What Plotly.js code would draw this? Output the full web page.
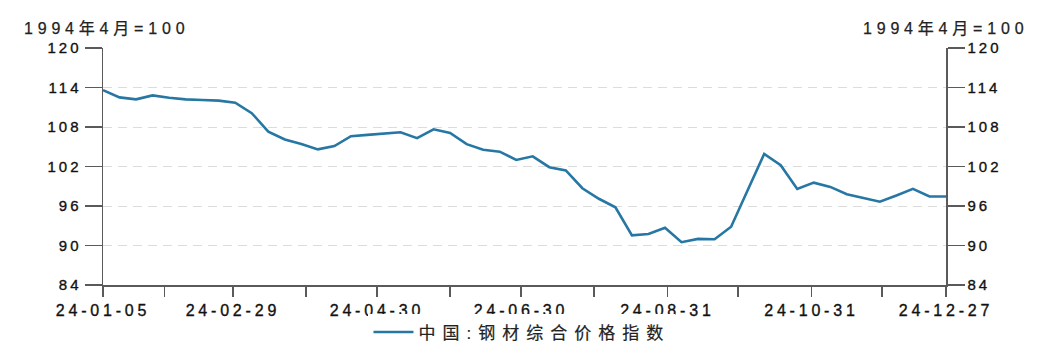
<!DOCTYPE html>
<html>
<head>
<meta charset="utf-8">
<script src="https://cdn.plot.ly/plotly-3.0.1.min.js"></script>
<style>
  html, body { margin: 0; padding: 0; background: #fff; }
  #chart { width: 1049px; height: 358px; }
  .xtick text { letter-spacing: 3.8px; stroke: #111; stroke-width: 0.35px; }
  .ytick text, .y2tick text { letter-spacing: 3px; stroke: #111; stroke-width: 0.35px; }
  .legendtext { letter-spacing: 7px; stroke: #222; stroke-width: 0.2px; }
  .annotation-text { letter-spacing: 4.8px; stroke: #222; stroke-width: 0.25px; }
</style>
</head>
<body>
<div id="chart"></div>
<script>
const dates = [
  "2024-01-05","2024-01-12","2024-01-19","2024-01-26",
  "2024-02-02","2024-02-09","2024-02-16","2024-02-23",
  "2024-03-01","2024-03-08","2024-03-15","2024-03-22","2024-03-29",
  "2024-04-05","2024-04-12","2024-04-19","2024-04-26",
  "2024-05-03","2024-05-10","2024-05-17","2024-05-24","2024-05-31",
  "2024-06-07","2024-06-14","2024-06-21","2024-06-28",
  "2024-07-05","2024-07-12","2024-07-19","2024-07-26",
  "2024-08-02","2024-08-09","2024-08-16","2024-08-23","2024-08-30",
  "2024-09-06","2024-09-13","2024-09-20","2024-09-27",
  "2024-10-04","2024-10-11","2024-10-18","2024-10-25",
  "2024-11-01","2024-11-08","2024-11-15","2024-11-22","2024-11-29",
  "2024-12-06","2024-12-13","2024-12-20","2024-12-27"
];
const steelIndex = [
  113.6,112.5,112.2,112.8,112.45,112.2,112.1,112.0,111.7,110.1,
  107.3,106.1,105.4,104.6,105.1,106.6,106.8,107.0,107.2,106.3,
  107.65,107.1,105.4,104.55,104.25,103.0,103.55,101.9,101.4,98.7,
  97.1,95.8,91.55,91.75,92.7,90.5,91.0,90.95,92.85,98.4,
  103.9,102.2,98.6,99.55,98.9,97.8,97.2,96.65,97.6,98.6,
  97.45,97.45
];
const seriesName = "中国:钢材综合价格指数";
const unitLabel = "1994年4月=100";
const tickDates = ["2024-01-05","2024-01-31","2024-02-29","2024-03-31","2024-04-30","2024-05-31",
  "2024-06-30","2024-07-31","2024-08-31","2024-09-30","2024-10-31","2024-11-30","2024-12-27"];
const tickLabels = ["24-01-05","","24-02-29","","24-04-30","","24-06-30","","24-08-31","","24-10-31","","24-12-27"];
const yTicks = [84,90,96,102,108,114,120];

const FONT = "'Liberation Sans', Arial, 'Noto Sans CJK SC', sans-serif";
const AXIS = "#5a5a5a";
const yCommon = {
  range: [84,120], tickvals: yTicks, ticktext: yTicks.map(String),
  showline: true, linecolor: AXIS, linewidth: 1.5,
  ticks: "outside", ticklen: 17, tickwidth: 1.5, tickcolor: AXIS,
  tickfont: {family: FONT, size: 15, color: "#111"},
  zeroline: false, fixedrange: true
};

const traces = [
  {x: dates, y: steelIndex, type: "scatter", mode: "lines", name: seriesName,
   line: {color: "#2677a3", width: 2.6}, xaxis: "x", yaxis: "y"},
  {x: dates, y: steelIndex, type: "scatter", mode: "lines", name: seriesName,
   line: {color: "rgba(0,0,0,0)", width: 0}, xaxis: "x", yaxis: "y2",
   showlegend: false, hoverinfo: "skip"}
];

const layout = {
  width: 1049, height: 358,
  margin: {l: 103, r: 103, t: 48, b: 73, autoexpand: false},
  paper_bgcolor: "#ffffff", plot_bgcolor: "#ffffff",
  font: {family: FONT, color: "#111"},
  showlegend: true,
  legend: {orientation: "h", x: 0.497, xanchor: "center", y: -0.2, yanchor: "middle",
    font: {family: FONT, size: 17, color: "#222"}, itemwidth: 40, tracegroupgap: 0},
  xaxis: {
    type: "date", range: ["2024-01-05","2024-12-27"],
    tickvals: tickDates, ticktext: tickLabels, tickangle: 0,
    showline: true, linecolor: AXIS, linewidth: 1.5,
    ticks: "outside", ticklen: 10, tickwidth: 1.5, tickcolor: AXIS,
    tickfont: {family: FONT, size: 16, color: "#111"},
    showgrid: false, zeroline: false, fixedrange: true
  },
  yaxis: Object.assign({}, yCommon, {side: "left",
    showgrid: true, gridcolor: "#dcdcdc", gridwidth: 1, griddash: "9px,6px"}),
  yaxis2: Object.assign({}, yCommon, {side: "right", overlaying: "y", showgrid: false}),
  annotations: [
    {text: unitLabel, xref: "paper", yref: "paper", x: -0.096, y: 1.038, xanchor: "left", yanchor: "bottom",
     showarrow: false, font: {family: FONT, size: 16, color: "#222"}},
    {text: unitLabel, xref: "paper", yref: "paper", x: 1.1, y: 1.038, xanchor: "right", yanchor: "bottom",
     showarrow: false, font: {family: FONT, size: 16, color: "#222"}}
  ]
};

Plotly.newPlot("chart", traces, layout, {displayModeBar: false, staticPlot: true});
</script>
</body>
</html>
